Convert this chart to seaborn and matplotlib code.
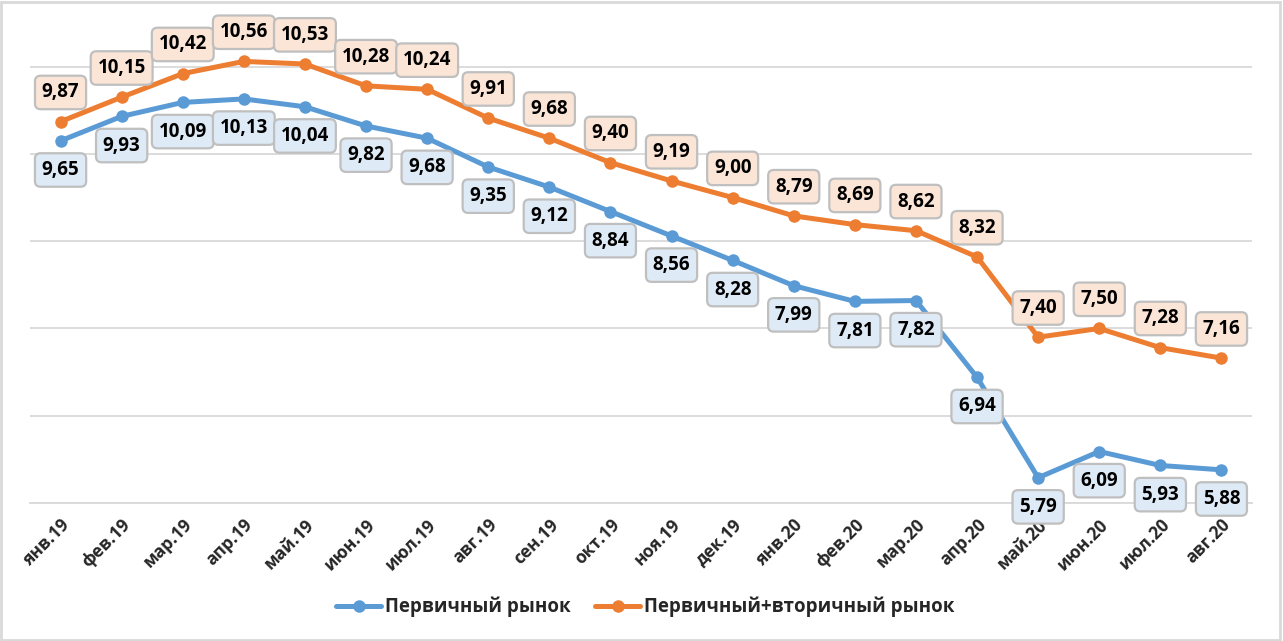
import pandas as pd
import numpy as np
import matplotlib
matplotlib.use('Agg')
import matplotlib.pyplot as plt
import seaborn as sns
from matplotlib.patches import Rectangle

months = ['янв.19', 'фев.19', 'мар.19', 'апр.19', 'май.19', 'июн.19', 'июл.19',
          'авг.19', 'сен.19', 'окт.19', 'ноя.19', 'дек.19', 'янв.20', 'фев.20',
          'мар.20', 'апр.20', 'май.20', 'июн.20', 'июл.20', 'авг.20']
primary = [9.65, 9.93, 10.09, 10.13, 10.04, 9.82, 9.68, 9.35, 9.12, 8.84,
           8.56, 8.28, 7.99, 7.81, 7.82, 6.94, 5.79, 6.09, 5.93, 5.88]
combined = [9.87, 10.15, 10.42, 10.56, 10.53, 10.28, 10.24, 9.91, 9.68, 9.40,
            9.19, 9.00, 8.79, 8.69, 8.62, 8.32, 7.40, 7.50, 7.28, 7.16]
series_names = ['Первичный рынок', 'Первичный+вторичный рынок']

sns.set_style('white')
plt.rcParams['font.family'] = ['Open Sans', 'DejaVu Sans']

BLUE = '#5B9BD5'
ORANGE = '#ED7D31'
GRID = '#D9D9D9'

df = pd.DataFrame({'month': months * 2,
                   'value': primary + combined,
                   'series': [series_names[0]] * len(months) + [series_names[1]] * len(months)})
df['pos'] = list(range(len(months))) * 2

fig = plt.figure(figsize=(12.83, 6.41), dpi=100)
ax = fig.add_axes([30 / 1283, 138 / 641, 1222 / 1283, 480 / 641])

sns.lineplot(data=df, x='pos', y='value', hue='series', palette=[BLUE, ORANGE],
             marker='o', markersize=9, markeredgewidth=0, linewidth=3.6,
             ax=ax, legend=True, zorder=3)

ax.set_xlim(-0.5, len(months) - 0.5)
ax.set_ylim(5.5, 11.0)
ax.set_yticks(np.arange(5.5, 10.6, 1.0))
ax.set_yticklabels([])
ax.tick_params(axis='y', length=0)
ax.grid(axis='y', color=GRID, linewidth=1.3, zorder=0)
ax.grid(axis='x', visible=False)
for s in ['top', 'right', 'left']:
    ax.spines[s].set_visible(False)
ax.spines['bottom'].set_color(GRID)
ax.spines['bottom'].set_linewidth(1.3)

ax.set_xticks(range(len(months)))
ax.set_xticklabels(months, rotation=45, ha='right', rotation_mode='anchor',
                   fontsize=12.5, fontweight='bold')
ax.set_xticks(np.arange(-0.5, len(months), 1.0), minor=True)
ax.tick_params(axis='x', which='major', length=0, pad=9)
ax.tick_params(axis='x', which='minor', length=5, width=1.3, color=GRID)
ax.set_xlabel('')
ax.set_ylabel('')

def add_labels(values, fc, dy):
    for i, v in enumerate(values):
        ax.annotate(f'{v:.2f}'.replace('.', ','), (i, v), xytext=(0, dy),
                    textcoords='offset points', ha='center', va='center',
                    fontsize=13.5, fontweight='bold', color='black', zorder=5,
                    bbox=dict(boxstyle='round,pad=0.36,rounding_size=0.3',
                              fc=fc, ec='#BFBFBF', lw=1.6))

add_labels(primary, '#DEEBF7', -21)
add_labels(combined, '#FBE5D6', 21)

handles, labels = ax.get_legend_handles_labels()
ax.legend_.remove()
fig.legend(handles, labels, loc='center', bbox_to_anchor=(0.503, 1 - 607 / 641),
           ncol=2, frameon=False, prop={'size': 13.5, 'weight': 'bold'},
           handlelength=2.4, columnspacing=1.3, handletextpad=0.2)

fig.patches.append(Rectangle((0.001, 0.002), 0.997, 0.995, transform=fig.transFigure,
                             fill=False, ec=GRID, lw=2))

fig.savefig('out.png', dpi=100)
